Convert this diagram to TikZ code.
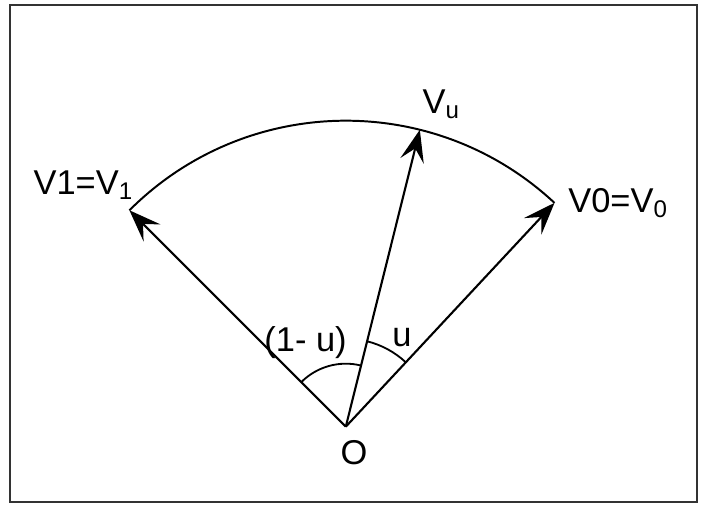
\documentclass[tikz,border=0pt]{standalone}
\usepackage{fontspec}
\setmainfont{Liberation Sans}
\usetikzlibrary{arrows.meta}

\begin{document}
\begin{tikzpicture}[>={Stealth[length=8mm,width=6mm,inset=3.2mm]},
    vec/.style={->, line width=1.5pt},
    angarc/.style={line width=1.3pt},
    lbl/.style={font=\fontsize{24.5}{28}\selectfont, inner sep=1pt}]
    \useasboundingbox (0,0) rectangle (17.6,12.6);
    \draw[line width=1.3pt, black!80] (0.25,0.05) rectangle (17.425,12.475);

    \coordinate (O) at (8.645,1.933);
    \coordinate (V1) at ([shift={(135:7.65)}]O);
    \coordinate (V0) at ([shift={(47:7.65)}]O);
    \coordinate (Vu) at ([shift={(76:7.65)}]O);

    \draw[line width=1.4pt] (V0) arc[start angle=47, end angle=135, radius=7.65];

    \draw[vec] (O) -- (V1);
    \draw[vec] (O) -- (V0);
    \draw[vec] (O) -- (Vu);

    \draw[angarc] ([shift={(47:2.2)}]O) arc[start angle=47, end angle=76, radius=2.2];
    \draw[angarc] ([shift={(76:1.575)}]O) arc[start angle=76, end angle=135, radius=1.575];

    \node[lbl] (lO) at (8.85,1.275) {O};
    \node[lbl] (lV1) at (2.08,7.975) {V1=V\textsubscript{1}};
    \node[lbl] (lV0) at (15.45,7.525) {V0=V\textsubscript{0}};
    \node[lbl] (lVu) at (11.03,10.0) {V\textsubscript{u}};
    \node[lbl] (lw1) at (7.64,4.025) {(1- u)};
    \node[lbl] (lw0) at (10.05,4.15) {u};
\end{tikzpicture}
\end{document}
